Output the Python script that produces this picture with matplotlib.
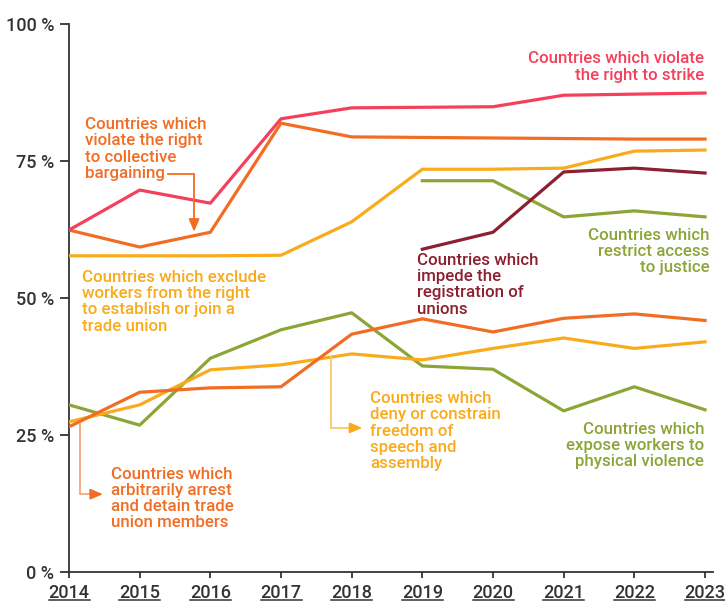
import matplotlib
matplotlib.use("Agg")
import matplotlib.pyplot as plt
from matplotlib.lines import Line2D

plt.rcParams['font.family'] = ['Roboto', 'DejaVu Sans']

years = [2014, 2015, 2016, 2017, 2018, 2019, 2020, 2021, 2022, 2023]
years_late = [2019, 2020, 2021, 2022, 2023]

strike = [62.4, 69.7, 67.3, 82.7, 84.7, 84.8, 84.9, 87.0, 87.2, 87.4]
collective = [62.4, 59.3, 62.0, 81.9, 79.4, 79.3, 79.2, 79.1, 79.0, 79.0]
exclude = [57.7, 57.7, 57.7, 57.8, 63.9, 73.5, 73.5, 73.7, 76.8, 77.0]
justice = [71.4, 71.4, 64.8, 65.9, 64.8]
registration = [58.9, 62.0, 73.0, 73.7, 72.8]
arrest = [26.5, 32.8, 33.6, 33.8, 43.4, 46.2, 43.8, 46.3, 47.1, 45.9]
speech = [27.4, 30.5, 36.9, 37.8, 39.8, 38.7, 40.8, 42.7, 40.8, 42.0]
violence = [30.5, 26.8, 39.0, 44.2, 47.3, 37.6, 37.0, 29.4, 33.8, 29.6]

yticks = [0, 25, 50, 75, 100]
ytick_labels = ['0 %', '25 %', '50 %', '75 %', '100 %']

RED = '#F5405C'
ORANGE = '#F26D24'
YELLOW = '#FAAB1C'
OLIVE = '#8CA537'
DARKRED = '#8C1F30'
LIGHT_ORANGE = '#F6A57E'
LIGHT_YELLOW = '#FBC766'
AXIS = '#333333'

fig = plt.figure(figsize=(7.25, 6.05), dpi=100)
ax = fig.add_axes([69/725, 1 - 572/605, (713 - 69)/725, (572 - 24)/605])

lw = 2.3
ax.plot(years, violence, color=OLIVE, lw=lw, zorder=3)
ax.plot(years, speech, color=YELLOW, lw=lw, zorder=3)
ax.plot(years, arrest, color=ORANGE, lw=lw, zorder=3)
ax.plot(years, exclude, color=YELLOW, lw=lw, zorder=3)
ax.plot(years_late, justice, color=OLIVE, lw=lw, zorder=3)
ax.plot(years_late, registration, color=DARKRED, lw=lw, zorder=3)
ax.plot(years, collective, color=ORANGE, lw=lw, zorder=3)
ax.plot(years, strike, color=RED, lw=lw, zorder=3)

ax.set_xlim(2014, 2023.113)
ax.set_ylim(0, 100)

for s in ['top', 'right']:
    ax.spines[s].set_visible(False)
for s in ['left', 'bottom']:
    ax.spines[s].set_color(AXIS)
    ax.spines[s].set_linewidth(1.3)

ax.set_yticks(yticks)
ax.set_yticklabels(ytick_labels)
ax.set_xticks(years)
ax.set_xticklabels([str(y) for y in years])
ax.tick_params(axis='y', length=6.5, width=1.3, color=AXIS, pad=4,
               labelsize=13, labelcolor=AXIS)
ax.tick_params(axis='x', length=4.5, width=1.3, color=AXIS, pad=4,
               labelsize=13, labelcolor=AXIS)
for lab in ax.get_xticklabels() + ax.get_yticklabels():
    lab.set_fontweight('medium')
for lab in ax.get_yticklabels():
    lab.set_verticalalignment('center_baseline')

fs = 12.2
ls = 1.1
tkw = dict(fontsize=fs, fontweight='medium', linespacing=ls, va='top')

ax.text(2022.99, 95.0, 'Countries which violate\nthe right to strike',
        color=RED, ha='right', ma='right', **tkw)
ax.text(2014.23, 83.0, 'Countries which\nviolate the right\nto collective\nbargaining',
        color=ORANGE, ha='left', **tkw)
ax.text(2014.18, 55.1, 'Countries which exclude\nworkers from the right\nto establish or join a\ntrade union',
        color=YELLOW, ha='left', **tkw)
ax.text(2018.92, 58.2, 'Countries which\nimpede the\nregistration of\nunions',
        color=DARKRED, ha='left', **tkw)
ax.text(2023.06, 62.8, 'Countries which\nrestrict access\nto justice',
        color=OLIVE, ha='right', ma='right', **tkw)
ax.text(2018.26, 33.0, 'Countries which\ndeny or constrain\nfreedom of\nspeech and\nassembly',
        color=YELLOW, ha='left', **tkw)
ax.text(2022.99, 27.4, 'Countries which\nexpose workers to\nphysical violence',
        color=OLIVE, ha='right', ma='right', **tkw)
ax.text(2014.59, 19.2, 'Countries which\narbitrarily arrest\nand detain trade\nunion members',
        color=ORANGE, ha='left', **tkw)


def head(tip, tail, color):
    ax.annotate('', xy=tip, xytext=tail,
                arrowprops=dict(arrowstyle='-|>,head_length=0.75,head_width=0.32',
                                color=color, lw=1.3, shrinkA=0, shrinkB=0),
                zorder=5)


# collective bargaining arrow
ax.plot([2015.40, 2015.77, 2015.77], [72.6, 72.6, 64.0], color=ORANGE, lw=1.3,
        zorder=4, solid_joinstyle='miter')
head((2015.77, 62.1), (2015.77, 64.5), ORANGE)

# speech arrow
ax.plot([2017.71, 2017.71, 2018.0], [39.2, 26.3, 26.3], color=LIGHT_YELLOW, lw=1.3,
        zorder=4, solid_joinstyle='miter')
head((2018.15, 26.3), (2017.97, 26.3), YELLOW)

# arrest arrow
ax.plot([2014.15, 2014.15, 2014.32], [27.0, 14.2, 14.2], color=LIGHT_ORANGE, lw=1.3,
        zorder=4, solid_joinstyle='miter', clip_on=False)
head((2014.48, 14.2), (2014.30, 14.2), ORANGE)

# underline x tick labels
fig.canvas.draw()
renderer = fig.canvas.get_renderer()
W, H = fig.bbox.width, fig.bbox.height
for lab in ax.get_xticklabels():
    bb = lab.get_window_extent(renderer)
    y = bb.y0 + 1.5
    fig.add_artist(Line2D([bb.x0 / W, bb.x1 / W], [y / H, y / H],
                          color=AXIS, lw=1.1, transform=fig.transFigure))

fig.savefig('out.png', dpi=100)
